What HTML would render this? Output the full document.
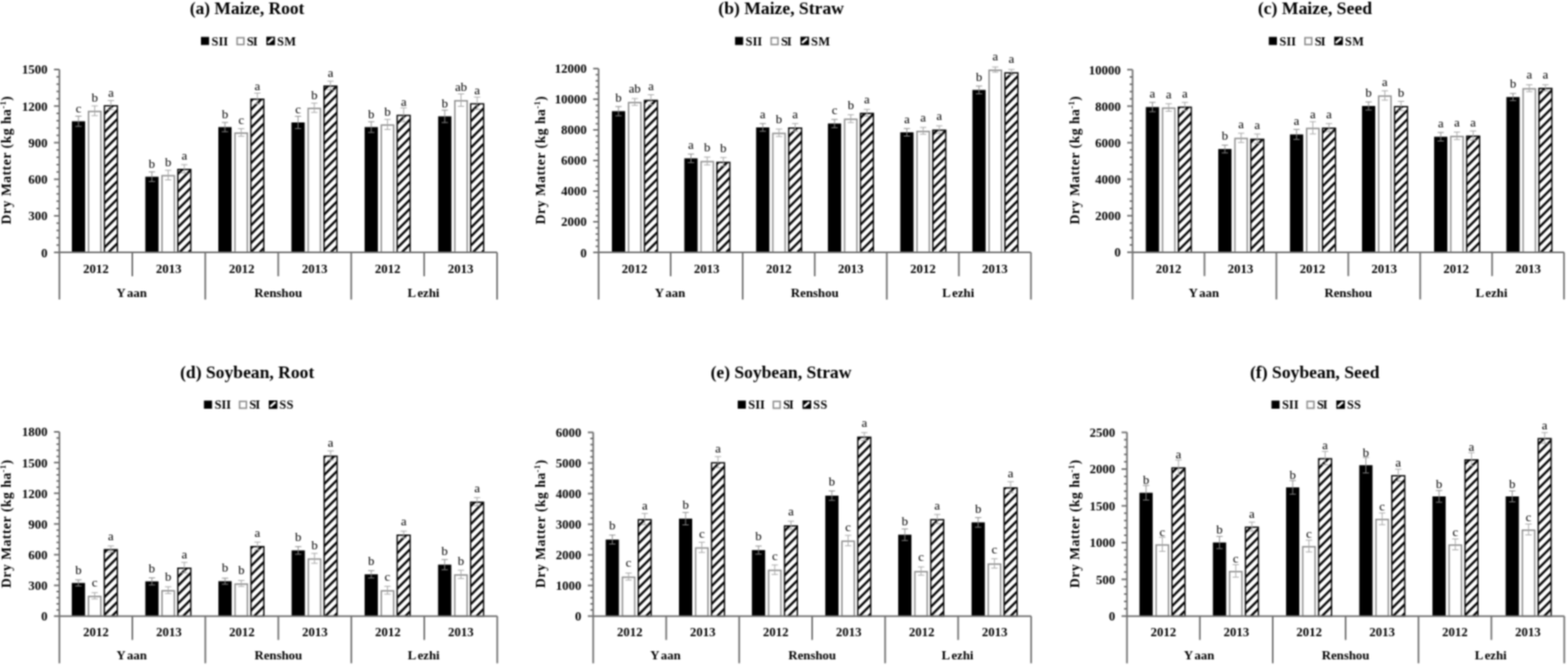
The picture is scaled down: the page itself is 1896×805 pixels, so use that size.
<!DOCTYPE html>
<html><head><meta charset="utf-8"><title>Dry matter figure</title>
<style>
html,body{margin:0;padding:0;background:#fff;}
body{width:1896px;height:805px;overflow:hidden;}
svg{display:block;}
text{font-family:'Liberation Serif','Times New Roman',serif;fill:#000;}
.ttl{font-size:21px;font-weight:bold;}
.leg{font-size:15px;font-weight:bold;}
.tick{font-size:15.5px;font-weight:bold;text-anchor:end;}
.cat{font-size:15.5px;font-weight:bold;font-kerning:none;}
.let{font-size:15.5px;}
.ytl{font-size:16.5px;font-weight:bold;}
.sup{font-size:10px;}
.ax{stroke:#707070;stroke-width:2;}
</style></head><body>
<svg width="1896" height="805" viewBox="0 0 1896 805">
<defs>
<filter id="bl" x="0" y="0" width="1" height="1" filterUnits="objectBoundingBox" color-interpolation-filters="sRGB"><feConvolveMatrix order="5" kernelMatrix="1 6 11 6 1 6 36 66 36 6 11 66 121 66 11 6 36 66 36 6 1 6 11 6 1" divisor="625" edgeMode="duplicate"/></filter>
<pattern id="hatcha" patternUnits="userSpaceOnUse" width="7.6" height="7.6" patternTransform="translate(0,4.3) rotate(-45)"><rect x="0" y="0" width="7.6" height="7.6" fill="#fff"/><rect x="0" y="0" width="7.6" height="2.7" fill="#000"/></pattern>
<pattern id="hatchb" patternUnits="userSpaceOnUse" width="7.6" height="7.6" patternTransform="translate(0,9.6) rotate(-45)"><rect x="0" y="0" width="7.6" height="7.6" fill="#fff"/><rect x="0" y="0" width="7.6" height="2.7" fill="#000"/></pattern>
<pattern id="hatchc" patternUnits="userSpaceOnUse" width="7.6" height="7.6" patternTransform="translate(0,6.0) rotate(-45)"><rect x="0" y="0" width="7.6" height="7.6" fill="#fff"/><rect x="0" y="0" width="7.6" height="2.7" fill="#000"/></pattern>
<pattern id="hatchd" patternUnits="userSpaceOnUse" width="7.6" height="7.6" patternTransform="translate(0,7.7) rotate(-45)"><rect x="0" y="0" width="7.6" height="7.6" fill="#fff"/><rect x="0" y="0" width="7.6" height="2.7" fill="#000"/></pattern>
<pattern id="hatche" patternUnits="userSpaceOnUse" width="7.6" height="7.6" patternTransform="translate(0,8.5) rotate(-45)"><rect x="0" y="0" width="7.6" height="7.6" fill="#fff"/><rect x="0" y="0" width="7.6" height="2.7" fill="#000"/></pattern>
<pattern id="hatchf" patternUnits="userSpaceOnUse" width="7.6" height="7.6" patternTransform="translate(0,9.0) rotate(-45)"><rect x="0" y="0" width="7.6" height="7.6" fill="#fff"/><rect x="0" y="0" width="7.6" height="2.7" fill="#000"/></pattern>
<pattern id="hatchL" patternUnits="userSpaceOnUse" width="5" height="5" patternTransform="rotate(-45)">
<rect x="0" y="0" width="5" height="5" fill="#fff"/><rect x="0" y="0" width="5" height="2.5" fill="#000"/>
</pattern>
</defs>
<g filter="url(#bl)">
<rect width="1896" height="805" fill="#fff"/>
<text x="229.5" y="16.9" class="ttl" textLength="138.5" lengthAdjust="spacingAndGlyphs">(a) Maize, Root</text>
<rect x="243" y="44.6" width="9.8" height="9.8" fill="#000"/>
<text x="255.8" y="54.6" class="leg" textLength="20" lengthAdjust="spacing">SII</text>
<rect x="286.7" y="45.6" width="8.2" height="8.2" fill="#fff" stroke="#8e8e8e" stroke-width="1.8"/>
<text x="298.6" y="54.6" class="leg" textLength="12.9" lengthAdjust="spacing">SI</text>
<rect x="322.1" y="44.4" width="10.4" height="10.2" fill="#000"/>
<line x1="324.7" y1="51.2" x2="329.5" y2="47" stroke="#fff" stroke-width="2.6" stroke-linecap="round"/>
<text x="334.9" y="54.6" class="leg" textLength="23" lengthAdjust="spacing">SM</text>
<rect x="86.9" y="146.6" width="16" height="158.5" fill="#000"/>
<path d="M94.9 140.4V152.8M91.1 140.4H98.7M91.1 152.8H98.7" stroke="#8a8a8a" stroke-width="1" fill="none"/>
<rect x="91.3" y="125.5" width="7.2" height="10.8" fill="#fff"/>
<text x="94.9" y="136" class="let" text-anchor="middle">c</text>
<rect x="107.1" y="134.7" width="14.9" height="170.4" fill="#fff" stroke="#8e8e8e" stroke-width="1.7"/>
<path d="M114.55 128V139.8M110.75 128H118.35M110.75 139.8H118.35" stroke="#a4a4a4" stroke-width="1" fill="none"/>
<rect x="110.95" y="112.8" width="7.2" height="10.8" fill="#fff"/>
<text x="114.55" y="123.3" class="let" text-anchor="middle">b</text>
<rect x="126.3" y="127.9" width="15.6" height="177.2" fill="url(#hatcha)" stroke="#000" stroke-width="1.6"/>
<path d="M134.1 121.5V132.7M130.3 121.5H137.9M130.3 132.7H137.9" stroke="#a4a4a4" stroke-width="1" fill="none"/>
<rect x="130.5" y="106" width="7.2" height="10.8" fill="#fff"/>
<text x="134.1" y="116.5" class="let" text-anchor="middle">a</text>
<rect x="175.7" y="213.6" width="16" height="91.5" fill="#000"/>
<path d="M183.7 207.8V219.4M179.9 207.8H187.5M179.9 219.4H187.5" stroke="#8a8a8a" stroke-width="1" fill="none"/>
<rect x="180.1" y="192.5" width="7.2" height="10.8" fill="#fff"/>
<text x="183.7" y="203" class="let" text-anchor="middle">b</text>
<rect x="195.9" y="212.4" width="14.9" height="92.7" fill="#fff" stroke="#8e8e8e" stroke-width="1.7"/>
<path d="M203.35 205.8V217.4M199.55 205.8H207.15M199.55 217.4H207.15" stroke="#a4a4a4" stroke-width="1" fill="none"/>
<rect x="199.75" y="190.5" width="7.2" height="10.8" fill="#fff"/>
<text x="203.35" y="201" class="let" text-anchor="middle">b</text>
<rect x="215.1" y="204.8" width="15.6" height="100.3" fill="url(#hatcha)" stroke="#000" stroke-width="1.6"/>
<path d="M222.9 199V209M219.1 199H226.7M219.1 209H226.7" stroke="#a4a4a4" stroke-width="1" fill="none"/>
<rect x="219.3" y="182.9" width="7.2" height="10.8" fill="#fff"/>
<text x="222.9" y="193.4" class="let" text-anchor="middle">a</text>
<rect x="264" y="153.6" width="16" height="151.5" fill="#000"/>
<path d="M272 148V159.2M268.2 148H275.8M268.2 159.2H275.8" stroke="#8a8a8a" stroke-width="1" fill="none"/>
<rect x="268.4" y="132.5" width="7.2" height="10.8" fill="#fff"/>
<text x="272" y="143" class="let" text-anchor="middle">b</text>
<rect x="284.2" y="160.9" width="14.9" height="144.2" fill="#fff" stroke="#8e8e8e" stroke-width="1.7"/>
<path d="M291.65 155.5V164.7M287.85 155.5H295.45M287.85 164.7H295.45" stroke="#a4a4a4" stroke-width="1" fill="none"/>
<rect x="288.05" y="139" width="7.2" height="10.8" fill="#fff"/>
<text x="291.65" y="149.5" class="let" text-anchor="middle">c</text>
<rect x="303.4" y="119.9" width="15.6" height="185.2" fill="url(#hatcha)" stroke="#000" stroke-width="1.6"/>
<path d="M311.2 112.6V125.6M307.4 112.6H315M307.4 125.6H315" stroke="#a4a4a4" stroke-width="1" fill="none"/>
<rect x="307.6" y="98" width="7.2" height="10.8" fill="#fff"/>
<text x="311.2" y="108.5" class="let" text-anchor="middle">a</text>
<rect x="352.4" y="148" width="16" height="157.1" fill="#000"/>
<path d="M360.4 140.6V155.4M356.6 140.6H364.2M356.6 155.4H364.2" stroke="#8a8a8a" stroke-width="1" fill="none"/>
<rect x="356.8" y="126.9" width="7.2" height="10.8" fill="#fff"/>
<text x="360.4" y="137.4" class="let" text-anchor="middle">c</text>
<rect x="372.6" y="131.1" width="14.9" height="174" fill="#fff" stroke="#8e8e8e" stroke-width="1.7"/>
<path d="M380.05 124.7V135.9M376.25 124.7H383.85M376.25 135.9H383.85" stroke="#a4a4a4" stroke-width="1" fill="none"/>
<rect x="376.45" y="109.2" width="7.2" height="10.8" fill="#fff"/>
<text x="380.05" y="119.7" class="let" text-anchor="middle">b</text>
<rect x="391.8" y="104.1" width="15.6" height="201" fill="url(#hatcha)" stroke="#000" stroke-width="1.6"/>
<path d="M399.6 98.1V108.5M395.8 98.1H403.4M395.8 108.5H403.4" stroke="#a4a4a4" stroke-width="1" fill="none"/>
<rect x="396" y="82.2" width="7.2" height="10.8" fill="#fff"/>
<text x="399.6" y="92.7" class="let" text-anchor="middle">a</text>
<rect x="440.9" y="153.6" width="16" height="151.5" fill="#000"/>
<path d="M448.9 147.1V160.1M445.1 147.1H452.7M445.1 160.1H452.7" stroke="#8a8a8a" stroke-width="1" fill="none"/>
<rect x="445.3" y="132.5" width="7.2" height="10.8" fill="#fff"/>
<text x="448.9" y="143" class="let" text-anchor="middle">b</text>
<rect x="461.1" y="151.2" width="14.9" height="153.9" fill="#fff" stroke="#8e8e8e" stroke-width="1.7"/>
<path d="M468.55 144.3V156.5M464.75 144.3H472.35M464.75 156.5H472.35" stroke="#a4a4a4" stroke-width="1" fill="none"/>
<rect x="464.95" y="129.3" width="7.2" height="10.8" fill="#fff"/>
<text x="468.55" y="139.8" class="let" text-anchor="middle">b</text>
<rect x="480.3" y="139.5" width="15.6" height="165.6" fill="url(#hatcha)" stroke="#000" stroke-width="1.6"/>
<path d="M488.1 130.3V147.1M484.3 130.3H491.9M484.3 147.1H491.9" stroke="#a4a4a4" stroke-width="1" fill="none"/>
<rect x="484.5" y="117.6" width="7.2" height="10.8" fill="#fff"/>
<text x="488.1" y="128.1" class="let" text-anchor="middle">a</text>
<rect x="529.8" y="140.6" width="16" height="164.5" fill="#000"/>
<path d="M537.8 133.1V148.1M534 133.1H541.6M534 148.1H541.6" stroke="#8a8a8a" stroke-width="1" fill="none"/>
<rect x="534.2" y="119.5" width="7.2" height="10.8" fill="#fff"/>
<text x="537.8" y="130" class="let" text-anchor="middle">b</text>
<rect x="550" y="121.8" width="14.9" height="183.3" fill="#fff" stroke="#8e8e8e" stroke-width="1.7"/>
<path d="M557.45 113.5V128.5M553.65 113.5H561.25M553.65 128.5H561.25" stroke="#a4a4a4" stroke-width="1" fill="none"/>
<rect x="550.2" y="99.9" width="14.5" height="10.8" fill="#fff"/>
<text x="557.45" y="110.4" class="let" text-anchor="middle">ab</text>
<rect x="569.2" y="125.5" width="15.6" height="179.6" fill="url(#hatcha)" stroke="#000" stroke-width="1.6"/>
<path d="M577 117.3V132.1M573.2 117.3H580.8M573.2 132.1H580.8" stroke="#a4a4a4" stroke-width="1" fill="none"/>
<rect x="573.4" y="103.6" width="7.2" height="10.8" fill="#fff"/>
<text x="577" y="114.1" class="let" text-anchor="middle">a</text>
<line x1="65.3" y1="305.1" x2="71.8" y2="305.1" class="ax"/>
<text x="57.6" y="310.5" class="tick">0</text>
<line x1="68.3" y1="296.26" x2="71.8" y2="296.26" class="ax"/>
<line x1="68.3" y1="287.41" x2="71.8" y2="287.41" class="ax"/>
<line x1="68.3" y1="278.57" x2="71.8" y2="278.57" class="ax"/>
<line x1="68.3" y1="269.72" x2="71.8" y2="269.72" class="ax"/>
<line x1="65.3" y1="260.88" x2="71.8" y2="260.88" class="ax"/>
<text x="57.6" y="266.28" class="tick">300</text>
<line x1="68.3" y1="252.04" x2="71.8" y2="252.04" class="ax"/>
<line x1="68.3" y1="243.19" x2="71.8" y2="243.19" class="ax"/>
<line x1="68.3" y1="234.35" x2="71.8" y2="234.35" class="ax"/>
<line x1="68.3" y1="225.5" x2="71.8" y2="225.5" class="ax"/>
<line x1="65.3" y1="216.66" x2="71.8" y2="216.66" class="ax"/>
<text x="57.6" y="222.06" class="tick">600</text>
<line x1="68.3" y1="207.82" x2="71.8" y2="207.82" class="ax"/>
<line x1="68.3" y1="198.97" x2="71.8" y2="198.97" class="ax"/>
<line x1="68.3" y1="190.13" x2="71.8" y2="190.13" class="ax"/>
<line x1="68.3" y1="181.28" x2="71.8" y2="181.28" class="ax"/>
<line x1="65.3" y1="172.44" x2="71.8" y2="172.44" class="ax"/>
<text x="57.6" y="177.84" class="tick">900</text>
<line x1="68.3" y1="163.6" x2="71.8" y2="163.6" class="ax"/>
<line x1="68.3" y1="154.75" x2="71.8" y2="154.75" class="ax"/>
<line x1="68.3" y1="145.91" x2="71.8" y2="145.91" class="ax"/>
<line x1="68.3" y1="137.06" x2="71.8" y2="137.06" class="ax"/>
<line x1="65.3" y1="128.22" x2="71.8" y2="128.22" class="ax"/>
<text x="57.6" y="133.62" class="tick">1200</text>
<line x1="68.3" y1="119.38" x2="71.8" y2="119.38" class="ax"/>
<line x1="68.3" y1="110.53" x2="71.8" y2="110.53" class="ax"/>
<line x1="68.3" y1="101.69" x2="71.8" y2="101.69" class="ax"/>
<line x1="68.3" y1="92.84" x2="71.8" y2="92.84" class="ax"/>
<line x1="65.3" y1="84" x2="71.8" y2="84" class="ax"/>
<text x="57.6" y="89.4" class="tick">1500</text>
<line x1="71.8" y1="84" x2="71.8" y2="362.1" class="ax"/>
<line x1="71.8" y1="305.1" x2="601.1" y2="305.1" class="ax"/>
<line x1="160.02" y1="305.1" x2="160.02" y2="333.9" class="ax"/>
<line x1="248.23" y1="305.1" x2="248.23" y2="362.1" class="ax"/>
<line x1="336.45" y1="305.1" x2="336.45" y2="333.9" class="ax"/>
<line x1="424.67" y1="305.1" x2="424.67" y2="362.1" class="ax"/>
<line x1="512.88" y1="305.1" x2="512.88" y2="333.9" class="ax"/>
<line x1="601.1" y1="305.1" x2="601.1" y2="362.1" class="ax"/>
<text x="115.91" y="329.7" class="cat" text-anchor="middle">2012</text>
<text x="204.12" y="329.7" class="cat" text-anchor="middle">2013</text>
<text x="292.34" y="329.7" class="cat" text-anchor="middle">2012</text>
<text x="380.56" y="329.7" class="cat" text-anchor="middle">2013</text>
<text x="468.78" y="329.7" class="cat" text-anchor="middle">2012</text>
<text x="556.99" y="329.7" class="cat" text-anchor="middle">2013</text>
<text x="159.22" y="359.3" class="cat" text-anchor="middle">Y<tspan dx="1.6">aan</tspan></text>
<text x="336.45" y="359.3" class="cat" text-anchor="middle">Renshou</text>
<text x="512.08" y="359.3" class="cat" text-anchor="middle">L<tspan dx="1.6">ezhi</tspan></text>
<text transform="translate(12.7,193.7) rotate(-90)" class="ytl" text-anchor="middle" textLength="155" lengthAdjust="spacing">Dry Matter (kg ha<tspan class="sup" dy="-6">-1</tspan><tspan dy="6">)</tspan></text>
<text x="868.6" y="16.9" class="ttl" textLength="151.9" lengthAdjust="spacingAndGlyphs">(b) Maize, Straw</text>
<rect x="888.8" y="44.6" width="9.8" height="9.8" fill="#000"/>
<text x="901.6" y="54.6" class="leg" textLength="20" lengthAdjust="spacing">SII</text>
<rect x="932.5" y="45.6" width="8.2" height="8.2" fill="#fff" stroke="#8e8e8e" stroke-width="1.8"/>
<text x="944.4" y="54.6" class="leg" textLength="12.9" lengthAdjust="spacing">SI</text>
<rect x="967.9" y="44.4" width="10.4" height="10.2" fill="#000"/>
<line x1="970.5" y1="51.2" x2="975.3" y2="47" stroke="#fff" stroke-width="2.6" stroke-linecap="round"/>
<text x="980.7" y="54.6" class="leg" textLength="23" lengthAdjust="spacing">SM</text>
<rect x="739.9" y="134.4" width="16" height="170.7" fill="#000"/>
<path d="M747.9 128.8V140M744.1 128.8H751.7M744.1 140H751.7" stroke="#8a8a8a" stroke-width="1" fill="none"/>
<rect x="744.3" y="112.7" width="7.2" height="10.8" fill="#fff"/>
<text x="747.9" y="123.2" class="let" text-anchor="middle">b</text>
<rect x="760.1" y="124" width="14.9" height="181.1" fill="#fff" stroke="#8e8e8e" stroke-width="1.7"/>
<path d="M767.55 119.1V127.3M763.75 119.1H771.35M763.75 127.3H771.35" stroke="#a4a4a4" stroke-width="1" fill="none"/>
<rect x="760.3" y="101.5" width="14.5" height="10.8" fill="#fff"/>
<text x="767.55" y="112" class="let" text-anchor="middle">ab</text>
<rect x="779.3" y="121.4" width="15.6" height="183.7" fill="url(#hatchb)" stroke="#000" stroke-width="1.6"/>
<path d="M787.1 114.5V126.7M783.3 114.5H790.9M783.3 126.7H790.9" stroke="#a4a4a4" stroke-width="1" fill="none"/>
<rect x="783.5" y="98.9" width="7.2" height="10.8" fill="#fff"/>
<text x="787.1" y="109.4" class="let" text-anchor="middle">a</text>
<rect x="827.5" y="191.4" width="16" height="113.7" fill="#000"/>
<path d="M835.5 186.2V196.6M831.7 186.2H839.3M831.7 196.6H839.3" stroke="#8a8a8a" stroke-width="1" fill="none"/>
<rect x="831.9" y="169.7" width="7.2" height="10.8" fill="#fff"/>
<text x="835.5" y="180.2" class="let" text-anchor="middle">a</text>
<rect x="847.7" y="195.4" width="14.9" height="109.7" fill="#fff" stroke="#8e8e8e" stroke-width="1.7"/>
<path d="M855.15 189.9V199.3M851.35 189.9H858.95M851.35 199.3H858.95" stroke="#a4a4a4" stroke-width="1" fill="none"/>
<rect x="851.55" y="172.9" width="7.2" height="10.8" fill="#fff"/>
<text x="855.15" y="183.4" class="let" text-anchor="middle">b</text>
<rect x="866.9" y="196.3" width="15.6" height="108.8" fill="url(#hatchb)" stroke="#000" stroke-width="1.6"/>
<path d="M874.7 190.3V200.7M870.9 190.3H878.5M870.9 200.7H878.5" stroke="#a4a4a4" stroke-width="1" fill="none"/>
<rect x="871.1" y="173.8" width="7.2" height="10.8" fill="#fff"/>
<text x="874.7" y="184.3" class="let" text-anchor="middle">b</text>
<rect x="914.3" y="154" width="16" height="151.1" fill="#000"/>
<path d="M922.3 149.3V158.7M918.5 149.3H926.1M918.5 158.7H926.1" stroke="#8a8a8a" stroke-width="1" fill="none"/>
<rect x="918.7" y="132.3" width="7.2" height="10.8" fill="#fff"/>
<text x="922.3" y="142.8" class="let" text-anchor="middle">a</text>
<rect x="934.5" y="161.3" width="14.9" height="143.8" fill="#fff" stroke="#8e8e8e" stroke-width="1.7"/>
<path d="M941.95 156V165M938.15 156H945.75M938.15 165H945.75" stroke="#a4a4a4" stroke-width="1" fill="none"/>
<rect x="938.35" y="138.8" width="7.2" height="10.8" fill="#fff"/>
<text x="941.95" y="149.3" class="let" text-anchor="middle">b</text>
<rect x="953.7" y="154.8" width="15.6" height="150.3" fill="url(#hatchb)" stroke="#000" stroke-width="1.6"/>
<path d="M961.5 149.3V158.7M957.7 149.3H965.3M957.7 158.7H965.3" stroke="#a4a4a4" stroke-width="1" fill="none"/>
<rect x="957.9" y="132.3" width="7.2" height="10.8" fill="#fff"/>
<text x="961.5" y="142.8" class="let" text-anchor="middle">a</text>
<rect x="1001.1" y="149.3" width="16" height="155.8" fill="#000"/>
<path d="M1009.1 144.3V154.3M1005.3 144.3H1012.9M1005.3 154.3H1012.9" stroke="#8a8a8a" stroke-width="1" fill="none"/>
<rect x="1005.5" y="127.6" width="7.2" height="10.8" fill="#fff"/>
<text x="1009.1" y="138.1" class="let" text-anchor="middle">c</text>
<rect x="1021.3" y="144.2" width="14.9" height="160.9" fill="#fff" stroke="#8e8e8e" stroke-width="1.7"/>
<path d="M1028.75 138.7V148.1M1024.95 138.7H1032.55M1024.95 148.1H1032.55" stroke="#a4a4a4" stroke-width="1" fill="none"/>
<rect x="1025.15" y="121.7" width="7.2" height="10.8" fill="#fff"/>
<text x="1028.75" y="132.2" class="let" text-anchor="middle">b</text>
<rect x="1040.5" y="137.1" width="15.6" height="168" fill="url(#hatchb)" stroke="#000" stroke-width="1.6"/>
<path d="M1048.3 132.2V140.4M1044.5 132.2H1052.1M1044.5 140.4H1052.1" stroke="#a4a4a4" stroke-width="1" fill="none"/>
<rect x="1044.7" y="114.6" width="7.2" height="10.8" fill="#fff"/>
<text x="1048.3" y="125.1" class="let" text-anchor="middle">a</text>
<rect x="1088.6" y="159.9" width="16" height="145.2" fill="#000"/>
<path d="M1096.6 155.3V164.5M1092.8 155.3H1100.4M1092.8 164.5H1100.4" stroke="#8a8a8a" stroke-width="1" fill="none"/>
<rect x="1093" y="138.2" width="7.2" height="10.8" fill="#fff"/>
<text x="1096.6" y="148.7" class="let" text-anchor="middle">a</text>
<rect x="1108.8" y="158.9" width="14.9" height="146.2" fill="#fff" stroke="#8e8e8e" stroke-width="1.7"/>
<path d="M1116.25 154V162.2M1112.45 154H1120.05M1112.45 162.2H1120.05" stroke="#a4a4a4" stroke-width="1" fill="none"/>
<rect x="1112.65" y="136.4" width="7.2" height="10.8" fill="#fff"/>
<text x="1116.25" y="146.9" class="let" text-anchor="middle">a</text>
<rect x="1128" y="157.4" width="15.6" height="147.7" fill="url(#hatchb)" stroke="#000" stroke-width="1.6"/>
<path d="M1135.8 152.1V161.1M1132 152.1H1139.6M1132 161.1H1139.6" stroke="#a4a4a4" stroke-width="1" fill="none"/>
<rect x="1132.2" y="134.9" width="7.2" height="10.8" fill="#fff"/>
<text x="1135.8" y="145.4" class="let" text-anchor="middle">a</text>
<rect x="1175.8" y="108.7" width="16" height="196.4" fill="#000"/>
<path d="M1183.8 104V113.4M1180 104H1187.6M1180 113.4H1187.6" stroke="#8a8a8a" stroke-width="1" fill="none"/>
<rect x="1180.2" y="87" width="7.2" height="10.8" fill="#fff"/>
<text x="1183.8" y="97.5" class="let" text-anchor="middle">b</text>
<rect x="1196" y="84.9" width="14.9" height="220.2" fill="#fff" stroke="#8e8e8e" stroke-width="1.7"/>
<path d="M1203.45 81V87.2M1199.65 81H1207.25M1199.65 87.2H1207.25" stroke="#a4a4a4" stroke-width="1" fill="none"/>
<rect x="1199.85" y="62.4" width="7.2" height="10.8" fill="#fff"/>
<text x="1203.45" y="72.9" class="let" text-anchor="middle">a</text>
<rect x="1215.2" y="88.1" width="15.6" height="217" fill="url(#hatchb)" stroke="#000" stroke-width="1.6"/>
<path d="M1223 84V90.6M1219.2 84H1226.8M1219.2 90.6H1226.8" stroke="#a4a4a4" stroke-width="1" fill="none"/>
<rect x="1219.4" y="65.6" width="7.2" height="10.8" fill="#fff"/>
<text x="1223" y="76.1" class="let" text-anchor="middle">a</text>
<line x1="717.3" y1="305.1" x2="723.8" y2="305.1" class="ax"/>
<text x="709.6" y="310.5" class="tick">0</text>
<line x1="720.3" y1="297.69" x2="723.8" y2="297.69" class="ax"/>
<line x1="720.3" y1="290.29" x2="723.8" y2="290.29" class="ax"/>
<line x1="720.3" y1="282.88" x2="723.8" y2="282.88" class="ax"/>
<line x1="720.3" y1="275.47" x2="723.8" y2="275.47" class="ax"/>
<line x1="717.3" y1="268.07" x2="723.8" y2="268.07" class="ax"/>
<text x="709.6" y="273.47" class="tick">2000</text>
<line x1="720.3" y1="260.66" x2="723.8" y2="260.66" class="ax"/>
<line x1="720.3" y1="253.25" x2="723.8" y2="253.25" class="ax"/>
<line x1="720.3" y1="245.85" x2="723.8" y2="245.85" class="ax"/>
<line x1="720.3" y1="238.44" x2="723.8" y2="238.44" class="ax"/>
<line x1="717.3" y1="231.03" x2="723.8" y2="231.03" class="ax"/>
<text x="709.6" y="236.43" class="tick">4000</text>
<line x1="720.3" y1="223.63" x2="723.8" y2="223.63" class="ax"/>
<line x1="720.3" y1="216.22" x2="723.8" y2="216.22" class="ax"/>
<line x1="720.3" y1="208.81" x2="723.8" y2="208.81" class="ax"/>
<line x1="720.3" y1="201.41" x2="723.8" y2="201.41" class="ax"/>
<line x1="717.3" y1="194" x2="723.8" y2="194" class="ax"/>
<text x="709.6" y="199.4" class="tick">6000</text>
<line x1="720.3" y1="186.59" x2="723.8" y2="186.59" class="ax"/>
<line x1="720.3" y1="179.19" x2="723.8" y2="179.19" class="ax"/>
<line x1="720.3" y1="171.78" x2="723.8" y2="171.78" class="ax"/>
<line x1="720.3" y1="164.37" x2="723.8" y2="164.37" class="ax"/>
<line x1="717.3" y1="156.97" x2="723.8" y2="156.97" class="ax"/>
<text x="709.6" y="162.37" class="tick">8000</text>
<line x1="720.3" y1="149.56" x2="723.8" y2="149.56" class="ax"/>
<line x1="720.3" y1="142.15" x2="723.8" y2="142.15" class="ax"/>
<line x1="720.3" y1="134.75" x2="723.8" y2="134.75" class="ax"/>
<line x1="720.3" y1="127.34" x2="723.8" y2="127.34" class="ax"/>
<line x1="717.3" y1="119.93" x2="723.8" y2="119.93" class="ax"/>
<text x="709.6" y="125.33" class="tick">10000</text>
<line x1="720.3" y1="112.53" x2="723.8" y2="112.53" class="ax"/>
<line x1="720.3" y1="105.12" x2="723.8" y2="105.12" class="ax"/>
<line x1="720.3" y1="97.71" x2="723.8" y2="97.71" class="ax"/>
<line x1="720.3" y1="90.31" x2="723.8" y2="90.31" class="ax"/>
<line x1="717.3" y1="82.9" x2="723.8" y2="82.9" class="ax"/>
<text x="709.6" y="88.3" class="tick">12000</text>
<line x1="723.8" y1="82.9" x2="723.8" y2="362.1" class="ax"/>
<line x1="723.8" y1="305.1" x2="1246.6" y2="305.1" class="ax"/>
<line x1="810.93" y1="305.1" x2="810.93" y2="333.9" class="ax"/>
<line x1="898.07" y1="305.1" x2="898.07" y2="362.1" class="ax"/>
<line x1="985.2" y1="305.1" x2="985.2" y2="333.9" class="ax"/>
<line x1="1072.33" y1="305.1" x2="1072.33" y2="362.1" class="ax"/>
<line x1="1159.47" y1="305.1" x2="1159.47" y2="333.9" class="ax"/>
<line x1="1246.6" y1="305.1" x2="1246.6" y2="362.1" class="ax"/>
<text x="767.37" y="329.7" class="cat" text-anchor="middle">2012</text>
<text x="854.5" y="329.7" class="cat" text-anchor="middle">2013</text>
<text x="941.63" y="329.7" class="cat" text-anchor="middle">2012</text>
<text x="1028.77" y="329.7" class="cat" text-anchor="middle">2013</text>
<text x="1115.9" y="329.7" class="cat" text-anchor="middle">2012</text>
<text x="1203.03" y="329.7" class="cat" text-anchor="middle">2013</text>
<text x="810.13" y="359.3" class="cat" text-anchor="middle">Y<tspan dx="1.6">aan</tspan></text>
<text x="985.2" y="359.3" class="cat" text-anchor="middle">Renshou</text>
<text x="1158.67" y="359.3" class="cat" text-anchor="middle">L<tspan dx="1.6">ezhi</tspan></text>
<text transform="translate(658.9,193.7) rotate(-90)" class="ytl" text-anchor="middle" textLength="155" lengthAdjust="spacing">Dry Matter (kg ha<tspan class="sup" dy="-6">-1</tspan><tspan dy="6">)</tspan></text>
<text x="1521" y="16.9" class="ttl" textLength="138" lengthAdjust="spacingAndGlyphs">(c) Maize, Seed</text>
<rect x="1534.25" y="44.6" width="9.8" height="9.8" fill="#000"/>
<text x="1547.05" y="54.6" class="leg" textLength="20" lengthAdjust="spacing">SII</text>
<rect x="1577.95" y="45.6" width="8.2" height="8.2" fill="#fff" stroke="#8e8e8e" stroke-width="1.8"/>
<text x="1589.85" y="54.6" class="leg" textLength="12.9" lengthAdjust="spacing">SI</text>
<rect x="1613.35" y="44.4" width="10.4" height="10.2" fill="#000"/>
<line x1="1615.95" y1="51.2" x2="1620.75" y2="47" stroke="#fff" stroke-width="2.6" stroke-linecap="round"/>
<text x="1626.15" y="54.6" class="leg" textLength="23" lengthAdjust="spacing">SM</text>
<rect x="1385.5" y="129.4" width="16" height="175.5" fill="#000"/>
<path d="M1393.5 123.8V135M1389.7 123.8H1397.3M1389.7 135H1397.3" stroke="#8a8a8a" stroke-width="1" fill="none"/>
<rect x="1389.9" y="107.7" width="7.2" height="10.8" fill="#fff"/>
<text x="1393.5" y="118.2" class="let" text-anchor="middle">a</text>
<rect x="1405.7" y="130.7" width="14.9" height="174.2" fill="#fff" stroke="#8e8e8e" stroke-width="1.7"/>
<path d="M1413.15 125.3V134.5M1409.35 125.3H1416.95M1409.35 134.5H1416.95" stroke="#a4a4a4" stroke-width="1" fill="none"/>
<rect x="1409.55" y="108.2" width="7.2" height="10.8" fill="#fff"/>
<text x="1413.15" y="118.7" class="let" text-anchor="middle">a</text>
<rect x="1424.9" y="129.6" width="15.6" height="175.3" fill="url(#hatchc)" stroke="#000" stroke-width="1.6"/>
<path d="M1432.7 123.8V133.8M1428.9 123.8H1436.5M1428.9 133.8H1436.5" stroke="#a4a4a4" stroke-width="1" fill="none"/>
<rect x="1429.1" y="107.1" width="7.2" height="10.8" fill="#fff"/>
<text x="1432.7" y="117.6" class="let" text-anchor="middle">a</text>
<rect x="1473.1" y="180.1" width="16" height="124.8" fill="#000"/>
<path d="M1481.1 175.4V184.8M1477.3 175.4H1484.9M1477.3 184.8H1484.9" stroke="#8a8a8a" stroke-width="1" fill="none"/>
<rect x="1477.5" y="158.4" width="7.2" height="10.8" fill="#fff"/>
<text x="1481.1" y="168.9" class="let" text-anchor="middle">b</text>
<rect x="1493.3" y="167.4" width="14.9" height="137.5" fill="#fff" stroke="#8e8e8e" stroke-width="1.7"/>
<path d="M1500.75 161V172.2M1496.95 161H1504.55M1496.95 172.2H1504.55" stroke="#a4a4a4" stroke-width="1" fill="none"/>
<rect x="1497.15" y="144.9" width="7.2" height="10.8" fill="#fff"/>
<text x="1500.75" y="155.4" class="let" text-anchor="middle">a</text>
<rect x="1512.5" y="168.4" width="15.6" height="136.5" fill="url(#hatchc)" stroke="#000" stroke-width="1.6"/>
<path d="M1520.3 162V173.2M1516.5 162H1524.1M1516.5 173.2H1524.1" stroke="#a4a4a4" stroke-width="1" fill="none"/>
<rect x="1516.7" y="145.9" width="7.2" height="10.8" fill="#fff"/>
<text x="1520.3" y="156.4" class="let" text-anchor="middle">a</text>
<rect x="1559.8" y="162.5" width="16" height="142.4" fill="#000"/>
<path d="M1567.8 156.4V168.6M1564 156.4H1571.6M1564 168.6H1571.6" stroke="#8a8a8a" stroke-width="1" fill="none"/>
<rect x="1564.2" y="140.8" width="7.2" height="10.8" fill="#fff"/>
<text x="1567.8" y="151.3" class="let" text-anchor="middle">a</text>
<rect x="1580" y="155.3" width="14.9" height="149.6" fill="#fff" stroke="#8e8e8e" stroke-width="1.7"/>
<path d="M1587.45 147.1V161.9M1583.65 147.1H1591.25M1583.65 161.9H1591.25" stroke="#a4a4a4" stroke-width="1" fill="none"/>
<rect x="1583.85" y="132.8" width="7.2" height="10.8" fill="#fff"/>
<text x="1587.45" y="143.3" class="let" text-anchor="middle">a</text>
<rect x="1599.2" y="155" width="15.6" height="149.9" fill="url(#hatchc)" stroke="#000" stroke-width="1.6"/>
<path d="M1607 149.3V159.1M1603.2 149.3H1610.8M1603.2 159.1H1610.8" stroke="#a4a4a4" stroke-width="1" fill="none"/>
<rect x="1603.4" y="132.5" width="7.2" height="10.8" fill="#fff"/>
<text x="1607" y="143" class="let" text-anchor="middle">a</text>
<rect x="1646.9" y="128.1" width="16" height="176.8" fill="#000"/>
<path d="M1654.9 123.2V133M1651.1 123.2H1658.7M1651.1 133H1658.7" stroke="#8a8a8a" stroke-width="1" fill="none"/>
<rect x="1651.3" y="106.4" width="7.2" height="10.8" fill="#fff"/>
<text x="1654.9" y="116.9" class="let" text-anchor="middle">b</text>
<rect x="1667.1" y="116.2" width="14.9" height="188.7" fill="#fff" stroke="#8e8e8e" stroke-width="1.7"/>
<path d="M1674.55 109.8V121M1670.75 109.8H1678.35M1670.75 121H1678.35" stroke="#a4a4a4" stroke-width="1" fill="none"/>
<rect x="1670.95" y="93.7" width="7.2" height="10.8" fill="#fff"/>
<text x="1674.55" y="104.2" class="let" text-anchor="middle">a</text>
<rect x="1686.3" y="128.9" width="15.6" height="176" fill="url(#hatchc)" stroke="#000" stroke-width="1.6"/>
<path d="M1694.1 122.5V133.7M1690.3 122.5H1697.9M1690.3 133.7H1697.9" stroke="#a4a4a4" stroke-width="1" fill="none"/>
<rect x="1690.5" y="106.4" width="7.2" height="10.8" fill="#fff"/>
<text x="1694.1" y="116.9" class="let" text-anchor="middle">b</text>
<rect x="1734.1" y="165.3" width="16" height="139.6" fill="#000"/>
<path d="M1742.1 160.1V170.5M1738.3 160.1H1745.9M1738.3 170.5H1745.9" stroke="#8a8a8a" stroke-width="1" fill="none"/>
<rect x="1738.5" y="143.6" width="7.2" height="10.8" fill="#fff"/>
<text x="1742.1" y="154.1" class="let" text-anchor="middle">a</text>
<rect x="1754.3" y="165" width="14.9" height="139.9" fill="#fff" stroke="#8e8e8e" stroke-width="1.7"/>
<path d="M1761.75 159.7V168.7M1757.95 159.7H1765.55M1757.95 168.7H1765.55" stroke="#a4a4a4" stroke-width="1" fill="none"/>
<rect x="1758.15" y="142.5" width="7.2" height="10.8" fill="#fff"/>
<text x="1761.75" y="153" class="let" text-anchor="middle">a</text>
<rect x="1773.5" y="164.6" width="15.6" height="140.3" fill="url(#hatchc)" stroke="#000" stroke-width="1.6"/>
<path d="M1781.3 158.3V169.3M1777.5 158.3H1785.1M1777.5 169.3H1785.1" stroke="#a4a4a4" stroke-width="1" fill="none"/>
<rect x="1777.7" y="142.1" width="7.2" height="10.8" fill="#fff"/>
<text x="1781.3" y="152.6" class="let" text-anchor="middle">a</text>
<rect x="1821.5" y="117.3" width="16" height="187.6" fill="#000"/>
<path d="M1829.5 113V121.6M1825.7 113H1833.3M1825.7 121.6H1833.3" stroke="#8a8a8a" stroke-width="1" fill="none"/>
<rect x="1825.9" y="95.6" width="7.2" height="10.8" fill="#fff"/>
<text x="1829.5" y="106.1" class="let" text-anchor="middle">b</text>
<rect x="1841.7" y="107.4" width="14.9" height="197.5" fill="#fff" stroke="#8e8e8e" stroke-width="1.7"/>
<path d="M1849.15 102.4V110.8M1845.35 102.4H1852.95M1845.35 110.8H1852.95" stroke="#a4a4a4" stroke-width="1" fill="none"/>
<rect x="1845.55" y="84.9" width="7.2" height="10.8" fill="#fff"/>
<text x="1849.15" y="95.4" class="let" text-anchor="middle">a</text>
<rect x="1860.9" y="106.9" width="15.6" height="198" fill="url(#hatchc)" stroke="#000" stroke-width="1.6"/>
<path d="M1868.7 102.4V109.8M1864.9 102.4H1872.5M1864.9 109.8H1872.5" stroke="#a4a4a4" stroke-width="1" fill="none"/>
<rect x="1865.1" y="84.4" width="7.2" height="10.8" fill="#fff"/>
<text x="1868.7" y="94.9" class="let" text-anchor="middle">a</text>
<line x1="1363" y1="304.9" x2="1369.5" y2="304.9" class="ax"/>
<text x="1355.3" y="310.3" class="tick">0</text>
<line x1="1366" y1="296.07" x2="1369.5" y2="296.07" class="ax"/>
<line x1="1366" y1="287.24" x2="1369.5" y2="287.24" class="ax"/>
<line x1="1366" y1="278.42" x2="1369.5" y2="278.42" class="ax"/>
<line x1="1366" y1="269.59" x2="1369.5" y2="269.59" class="ax"/>
<line x1="1363" y1="260.76" x2="1369.5" y2="260.76" class="ax"/>
<text x="1355.3" y="266.16" class="tick">2000</text>
<line x1="1366" y1="251.93" x2="1369.5" y2="251.93" class="ax"/>
<line x1="1366" y1="243.1" x2="1369.5" y2="243.1" class="ax"/>
<line x1="1366" y1="234.28" x2="1369.5" y2="234.28" class="ax"/>
<line x1="1366" y1="225.45" x2="1369.5" y2="225.45" class="ax"/>
<line x1="1363" y1="216.62" x2="1369.5" y2="216.62" class="ax"/>
<text x="1355.3" y="222.02" class="tick">4000</text>
<line x1="1366" y1="207.79" x2="1369.5" y2="207.79" class="ax"/>
<line x1="1366" y1="198.96" x2="1369.5" y2="198.96" class="ax"/>
<line x1="1366" y1="190.14" x2="1369.5" y2="190.14" class="ax"/>
<line x1="1366" y1="181.31" x2="1369.5" y2="181.31" class="ax"/>
<line x1="1363" y1="172.48" x2="1369.5" y2="172.48" class="ax"/>
<text x="1355.3" y="177.88" class="tick">6000</text>
<line x1="1366" y1="163.65" x2="1369.5" y2="163.65" class="ax"/>
<line x1="1366" y1="154.82" x2="1369.5" y2="154.82" class="ax"/>
<line x1="1366" y1="146" x2="1369.5" y2="146" class="ax"/>
<line x1="1366" y1="137.17" x2="1369.5" y2="137.17" class="ax"/>
<line x1="1363" y1="128.34" x2="1369.5" y2="128.34" class="ax"/>
<text x="1355.3" y="133.74" class="tick">8000</text>
<line x1="1366" y1="119.51" x2="1369.5" y2="119.51" class="ax"/>
<line x1="1366" y1="110.68" x2="1369.5" y2="110.68" class="ax"/>
<line x1="1366" y1="101.86" x2="1369.5" y2="101.86" class="ax"/>
<line x1="1366" y1="93.03" x2="1369.5" y2="93.03" class="ax"/>
<line x1="1363" y1="84.2" x2="1369.5" y2="84.2" class="ax"/>
<text x="1355.3" y="89.6" class="tick">10000</text>
<line x1="1369.5" y1="84.2" x2="1369.5" y2="361.9" class="ax"/>
<line x1="1369.5" y1="304.9" x2="1891.2" y2="304.9" class="ax"/>
<line x1="1456.45" y1="304.9" x2="1456.45" y2="333.7" class="ax"/>
<line x1="1543.4" y1="304.9" x2="1543.4" y2="361.9" class="ax"/>
<line x1="1630.35" y1="304.9" x2="1630.35" y2="333.7" class="ax"/>
<line x1="1717.3" y1="304.9" x2="1717.3" y2="361.9" class="ax"/>
<line x1="1804.25" y1="304.9" x2="1804.25" y2="333.7" class="ax"/>
<line x1="1891.2" y1="304.9" x2="1891.2" y2="361.9" class="ax"/>
<text x="1412.97" y="329.5" class="cat" text-anchor="middle">2012</text>
<text x="1499.92" y="329.5" class="cat" text-anchor="middle">2013</text>
<text x="1586.88" y="329.5" class="cat" text-anchor="middle">2012</text>
<text x="1673.83" y="329.5" class="cat" text-anchor="middle">2013</text>
<text x="1760.78" y="329.5" class="cat" text-anchor="middle">2012</text>
<text x="1847.72" y="329.5" class="cat" text-anchor="middle">2013</text>
<text x="1455.65" y="359.1" class="cat" text-anchor="middle">Y<tspan dx="1.6">aan</tspan></text>
<text x="1630.35" y="359.1" class="cat" text-anchor="middle">Renshou</text>
<text x="1803.45" y="359.1" class="cat" text-anchor="middle">L<tspan dx="1.6">ezhi</tspan></text>
<text transform="translate(1304.7,193.7) rotate(-90)" class="ytl" text-anchor="middle" textLength="155" lengthAdjust="spacing">Dry Matter (kg ha<tspan class="sup" dy="-6">-1</tspan><tspan dy="6">)</tspan></text>
<text x="217.8" y="456.5" class="ttl" textLength="162.2" lengthAdjust="spacingAndGlyphs">(d) Soybean, Root</text>
<rect x="246.6" y="484.2" width="9.8" height="9.8" fill="#000"/>
<text x="259.4" y="494.2" class="leg" textLength="20" lengthAdjust="spacing">SII</text>
<rect x="289.7" y="485.2" width="8.2" height="8.2" fill="#fff" stroke="#8e8e8e" stroke-width="1.8"/>
<text x="301.6" y="494.2" class="leg" textLength="12.9" lengthAdjust="spacing">SI</text>
<rect x="325" y="484" width="10.4" height="10.2" fill="#000"/>
<line x1="327.6" y1="490.8" x2="332.4" y2="486.6" stroke="#fff" stroke-width="2.6" stroke-linecap="round"/>
<text x="337.8" y="494.2" class="leg" textLength="17" lengthAdjust="spacing">SS</text>
<rect x="86.8" y="704.6" width="16" height="40.1" fill="#000"/>
<path d="M94.8 700.9V708.3M91 700.9H98.6M91 708.3H98.6" stroke="#8a8a8a" stroke-width="1" fill="none"/>
<rect x="91.2" y="683" width="7.2" height="10.8" fill="#fff"/>
<text x="94.8" y="693.5" class="let" text-anchor="middle">b</text>
<rect x="107" y="720.9" width="14.9" height="23.8" fill="#fff" stroke="#8e8e8e" stroke-width="1.7"/>
<path d="M114.45 716.3V723.9M110.65 716.3H118.25M110.65 723.9H118.25" stroke="#a4a4a4" stroke-width="1" fill="none"/>
<rect x="110.85" y="698.5" width="7.2" height="10.8" fill="#fff"/>
<text x="114.45" y="709" class="let" text-anchor="middle">c</text>
<rect x="126.2" y="664.4" width="15.6" height="80.3" fill="url(#hatchd)" stroke="#000" stroke-width="1.6"/>
<path d="M134 659.9V667.3M130.2 659.9H137.8M130.2 667.3H137.8" stroke="#a4a4a4" stroke-width="1" fill="none"/>
<rect x="130.4" y="642" width="7.2" height="10.8" fill="#fff"/>
<text x="134" y="652.5" class="let" text-anchor="middle">a</text>
<rect x="175.7" y="702.7" width="16" height="42" fill="#000"/>
<path d="M183.7 698.4V707M179.9 698.4H187.5M179.9 707H187.5" stroke="#8a8a8a" stroke-width="1" fill="none"/>
<rect x="180.1" y="681.1" width="7.2" height="10.8" fill="#fff"/>
<text x="183.7" y="691.6" class="let" text-anchor="middle">b</text>
<rect x="195.9" y="714.1" width="14.9" height="30.6" fill="#fff" stroke="#8e8e8e" stroke-width="1.7"/>
<path d="M203.35 709.2V717.4M199.55 709.2H207.15M199.55 717.4H207.15" stroke="#a4a4a4" stroke-width="1" fill="none"/>
<rect x="199.75" y="691.7" width="7.2" height="10.8" fill="#fff"/>
<text x="203.35" y="702.2" class="let" text-anchor="middle">b</text>
<rect x="215.1" y="686.8" width="15.6" height="57.9" fill="url(#hatchd)" stroke="#000" stroke-width="1.6"/>
<path d="M222.9 679.8V692.2M219.1 679.8H226.7M219.1 692.2H226.7" stroke="#a4a4a4" stroke-width="1" fill="none"/>
<rect x="219.3" y="664.4" width="7.2" height="10.8" fill="#fff"/>
<text x="222.9" y="674.9" class="let" text-anchor="middle">a</text>
<rect x="264.1" y="702.5" width="16" height="42.2" fill="#000"/>
<path d="M272.1 698.9V706.1M268.3 698.9H275.9M268.3 706.1H275.9" stroke="#8a8a8a" stroke-width="1" fill="none"/>
<rect x="268.5" y="680.9" width="7.2" height="10.8" fill="#fff"/>
<text x="272.1" y="691.4" class="let" text-anchor="middle">b</text>
<rect x="284.3" y="706" width="14.9" height="38.7" fill="#fff" stroke="#8e8e8e" stroke-width="1.7"/>
<path d="M291.75 701.6V708.8M287.95 701.6H295.55M287.95 708.8H295.55" stroke="#a4a4a4" stroke-width="1" fill="none"/>
<rect x="288.15" y="683.6" width="7.2" height="10.8" fill="#fff"/>
<text x="291.75" y="694.1" class="let" text-anchor="middle">b</text>
<rect x="303.5" y="660.7" width="15.6" height="84" fill="url(#hatchd)" stroke="#000" stroke-width="1.6"/>
<path d="M311.3 655.2V664.6M307.5 655.2H315.1M307.5 664.6H315.1" stroke="#a4a4a4" stroke-width="1" fill="none"/>
<rect x="307.7" y="638.3" width="7.2" height="10.8" fill="#fff"/>
<text x="311.3" y="648.8" class="let" text-anchor="middle">a</text>
<rect x="352.6" y="665.3" width="16" height="79.4" fill="#000"/>
<path d="M360.6 660.7V669.9M356.8 660.7H364.4M356.8 669.9H364.4" stroke="#8a8a8a" stroke-width="1" fill="none"/>
<rect x="357" y="643.7" width="7.2" height="10.8" fill="#fff"/>
<text x="360.6" y="654.2" class="let" text-anchor="middle">b</text>
<rect x="372.8" y="675.7" width="14.9" height="69" fill="#fff" stroke="#8e8e8e" stroke-width="1.7"/>
<path d="M380.25 668.9V680.9M376.45 668.9H384.05M376.45 680.9H384.05" stroke="#a4a4a4" stroke-width="1" fill="none"/>
<rect x="376.65" y="653.3" width="7.2" height="10.8" fill="#fff"/>
<text x="380.25" y="663.8" class="let" text-anchor="middle">b</text>
<rect x="392" y="551.4" width="15.6" height="193.3" fill="url(#hatchd)" stroke="#000" stroke-width="1.6"/>
<path d="M399.8 545V556.2M396 545H403.6M396 556.2H403.6" stroke="#a4a4a4" stroke-width="1" fill="none"/>
<rect x="396.2" y="529" width="7.2" height="10.8" fill="#fff"/>
<text x="399.8" y="539.5" class="let" text-anchor="middle">a</text>
<rect x="440.9" y="694.2" width="16" height="50.5" fill="#000"/>
<path d="M448.9 689.7V698.7M445.1 689.7H452.7M445.1 698.7H452.7" stroke="#8a8a8a" stroke-width="1" fill="none"/>
<rect x="445.3" y="672.6" width="7.2" height="10.8" fill="#fff"/>
<text x="448.9" y="683.1" class="let" text-anchor="middle">b</text>
<rect x="461.1" y="714.2" width="14.9" height="30.5" fill="#fff" stroke="#8e8e8e" stroke-width="1.7"/>
<path d="M468.55 708.7V718.1M464.75 708.7H472.35M464.75 718.1H472.35" stroke="#a4a4a4" stroke-width="1" fill="none"/>
<rect x="464.95" y="691.8" width="7.2" height="10.8" fill="#fff"/>
<text x="468.55" y="702.3" class="let" text-anchor="middle">c</text>
<rect x="480.3" y="646.9" width="15.6" height="97.8" fill="url(#hatchd)" stroke="#000" stroke-width="1.6"/>
<path d="M488.1 642V650.2M484.3 642H491.9M484.3 650.2H491.9" stroke="#a4a4a4" stroke-width="1" fill="none"/>
<rect x="484.5" y="624.5" width="7.2" height="10.8" fill="#fff"/>
<text x="488.1" y="635" class="let" text-anchor="middle">a</text>
<rect x="529.7" y="682.5" width="16" height="62.2" fill="#000"/>
<path d="M537.7 676.3V688.7M533.9 676.3H541.5M533.9 688.7H541.5" stroke="#8a8a8a" stroke-width="1" fill="none"/>
<rect x="534.1" y="660.9" width="7.2" height="10.8" fill="#fff"/>
<text x="537.7" y="671.4" class="let" text-anchor="middle">b</text>
<rect x="549.9" y="695" width="14.9" height="49.7" fill="#fff" stroke="#8e8e8e" stroke-width="1.7"/>
<path d="M557.35 689.2V699.2M553.55 689.2H561.15M553.55 699.2H561.15" stroke="#a4a4a4" stroke-width="1" fill="none"/>
<rect x="553.75" y="672.6" width="7.2" height="10.8" fill="#fff"/>
<text x="557.35" y="683.1" class="let" text-anchor="middle">b</text>
<rect x="569.1" y="607.1" width="15.6" height="137.6" fill="url(#hatchd)" stroke="#000" stroke-width="1.6"/>
<path d="M576.9 601.4V611.2M573.1 601.4H580.7M573.1 611.2H580.7" stroke="#a4a4a4" stroke-width="1" fill="none"/>
<rect x="573.3" y="584.7" width="7.2" height="10.8" fill="#fff"/>
<text x="576.9" y="595.2" class="let" text-anchor="middle">a</text>
<line x1="65.3" y1="744.7" x2="71.8" y2="744.7" class="ax"/>
<text x="57.6" y="750.1" class="tick">0</text>
<line x1="68.3" y1="737.28" x2="71.8" y2="737.28" class="ax"/>
<line x1="68.3" y1="729.85" x2="71.8" y2="729.85" class="ax"/>
<line x1="68.3" y1="722.43" x2="71.8" y2="722.43" class="ax"/>
<line x1="68.3" y1="715.01" x2="71.8" y2="715.01" class="ax"/>
<line x1="65.3" y1="707.58" x2="71.8" y2="707.58" class="ax"/>
<text x="57.6" y="712.98" class="tick">300</text>
<line x1="68.3" y1="700.16" x2="71.8" y2="700.16" class="ax"/>
<line x1="68.3" y1="692.74" x2="71.8" y2="692.74" class="ax"/>
<line x1="68.3" y1="685.31" x2="71.8" y2="685.31" class="ax"/>
<line x1="68.3" y1="677.89" x2="71.8" y2="677.89" class="ax"/>
<line x1="65.3" y1="670.47" x2="71.8" y2="670.47" class="ax"/>
<text x="57.6" y="675.87" class="tick">600</text>
<line x1="68.3" y1="663.04" x2="71.8" y2="663.04" class="ax"/>
<line x1="68.3" y1="655.62" x2="71.8" y2="655.62" class="ax"/>
<line x1="68.3" y1="648.2" x2="71.8" y2="648.2" class="ax"/>
<line x1="68.3" y1="640.77" x2="71.8" y2="640.77" class="ax"/>
<line x1="65.3" y1="633.35" x2="71.8" y2="633.35" class="ax"/>
<text x="57.6" y="638.75" class="tick">900</text>
<line x1="68.3" y1="625.93" x2="71.8" y2="625.93" class="ax"/>
<line x1="68.3" y1="618.5" x2="71.8" y2="618.5" class="ax"/>
<line x1="68.3" y1="611.08" x2="71.8" y2="611.08" class="ax"/>
<line x1="68.3" y1="603.66" x2="71.8" y2="603.66" class="ax"/>
<line x1="65.3" y1="596.23" x2="71.8" y2="596.23" class="ax"/>
<text x="57.6" y="601.63" class="tick">1200</text>
<line x1="68.3" y1="588.81" x2="71.8" y2="588.81" class="ax"/>
<line x1="68.3" y1="581.39" x2="71.8" y2="581.39" class="ax"/>
<line x1="68.3" y1="573.96" x2="71.8" y2="573.96" class="ax"/>
<line x1="68.3" y1="566.54" x2="71.8" y2="566.54" class="ax"/>
<line x1="65.3" y1="559.12" x2="71.8" y2="559.12" class="ax"/>
<text x="57.6" y="564.52" class="tick">1500</text>
<line x1="68.3" y1="551.69" x2="71.8" y2="551.69" class="ax"/>
<line x1="68.3" y1="544.27" x2="71.8" y2="544.27" class="ax"/>
<line x1="68.3" y1="536.85" x2="71.8" y2="536.85" class="ax"/>
<line x1="68.3" y1="529.42" x2="71.8" y2="529.42" class="ax"/>
<line x1="65.3" y1="522" x2="71.8" y2="522" class="ax"/>
<text x="57.6" y="527.4" class="tick">1800</text>
<line x1="71.8" y1="522" x2="71.8" y2="801.7" class="ax"/>
<line x1="71.8" y1="744.7" x2="601.3" y2="744.7" class="ax"/>
<line x1="160.05" y1="744.7" x2="160.05" y2="773.5" class="ax"/>
<line x1="248.3" y1="744.7" x2="248.3" y2="801.7" class="ax"/>
<line x1="336.55" y1="744.7" x2="336.55" y2="773.5" class="ax"/>
<line x1="424.8" y1="744.7" x2="424.8" y2="801.7" class="ax"/>
<line x1="513.05" y1="744.7" x2="513.05" y2="773.5" class="ax"/>
<line x1="601.3" y1="744.7" x2="601.3" y2="801.7" class="ax"/>
<text x="115.92" y="769.3" class="cat" text-anchor="middle">2012</text>
<text x="204.18" y="769.3" class="cat" text-anchor="middle">2013</text>
<text x="292.43" y="769.3" class="cat" text-anchor="middle">2012</text>
<text x="380.68" y="769.3" class="cat" text-anchor="middle">2013</text>
<text x="468.93" y="769.3" class="cat" text-anchor="middle">2012</text>
<text x="557.17" y="769.3" class="cat" text-anchor="middle">2013</text>
<text x="159.25" y="797.2" class="cat" text-anchor="middle">Y<tspan dx="1.6">aan</tspan></text>
<text x="336.55" y="797.2" class="cat" text-anchor="middle">Renshou</text>
<text x="512.25" y="797.2" class="cat" text-anchor="middle">L<tspan dx="1.6">ezhi</tspan></text>
<text transform="translate(12.7,633.3) rotate(-90)" class="ytl" text-anchor="middle" textLength="155" lengthAdjust="spacing">Dry Matter (kg ha<tspan class="sup" dy="-6">-1</tspan><tspan dy="6">)</tspan></text>
<text x="859.2" y="456.5" class="ttl" textLength="170.3" lengthAdjust="spacingAndGlyphs">(e) Soybean, Straw</text>
<rect x="892.05" y="484.2" width="9.8" height="9.8" fill="#000"/>
<text x="904.85" y="494.2" class="leg" textLength="20" lengthAdjust="spacing">SII</text>
<rect x="935.15" y="485.2" width="8.2" height="8.2" fill="#fff" stroke="#8e8e8e" stroke-width="1.8"/>
<text x="947.05" y="494.2" class="leg" textLength="12.9" lengthAdjust="spacing">SI</text>
<rect x="970.45" y="484" width="10.4" height="10.2" fill="#000"/>
<line x1="973.05" y1="490.8" x2="977.85" y2="486.6" stroke="#fff" stroke-width="2.6" stroke-linecap="round"/>
<text x="983.25" y="494.2" class="leg" textLength="17" lengthAdjust="spacing">SS</text>
<rect x="732.4" y="652.2" width="16" height="92.5" fill="#000"/>
<path d="M740.4 646.8V657.6M736.6 646.8H744.2M736.6 657.6H744.2" stroke="#8a8a8a" stroke-width="1" fill="none"/>
<rect x="736.8" y="629.9" width="7.2" height="10.8" fill="#fff"/>
<text x="740.4" y="640.4" class="let" text-anchor="middle">b</text>
<rect x="752.6" y="697.7" width="14.9" height="47" fill="#fff" stroke="#8e8e8e" stroke-width="1.7"/>
<path d="M760.05 692.7V701.1M756.25 692.7H763.85M756.25 701.1H763.85" stroke="#a4a4a4" stroke-width="1" fill="none"/>
<rect x="756.45" y="674.6" width="7.2" height="10.8" fill="#fff"/>
<text x="760.05" y="685.1" class="let" text-anchor="middle">c</text>
<rect x="771.8" y="628.2" width="15.6" height="116.5" fill="url(#hatche)" stroke="#000" stroke-width="1.6"/>
<path d="M779.6 620.7V634.1M775.8 620.7H783.4M775.8 634.1H783.4" stroke="#a4a4a4" stroke-width="1" fill="none"/>
<rect x="776" y="605.1" width="7.2" height="10.8" fill="#fff"/>
<text x="779.6" y="615.6" class="let" text-anchor="middle">a</text>
<rect x="821" y="626.9" width="16" height="117.8" fill="#000"/>
<path d="M829 619.4V634.4M825.2 619.4H832.8M825.2 634.4H832.8" stroke="#8a8a8a" stroke-width="1" fill="none"/>
<rect x="825.4" y="604.6" width="7.2" height="10.8" fill="#fff"/>
<text x="829" y="615.1" class="let" text-anchor="middle">b</text>
<rect x="841.2" y="662.4" width="14.9" height="82.3" fill="#fff" stroke="#8e8e8e" stroke-width="1.7"/>
<path d="M848.65 655.4V667.8M844.85 655.4H852.45M844.85 667.8H852.45" stroke="#a4a4a4" stroke-width="1" fill="none"/>
<rect x="845.05" y="639.3" width="7.2" height="10.8" fill="#fff"/>
<text x="848.65" y="649.8" class="let" text-anchor="middle">c</text>
<rect x="860.4" y="559.4" width="15.6" height="185.3" fill="url(#hatche)" stroke="#000" stroke-width="1.6"/>
<path d="M868.2 551.9V565.3M864.4 551.9H872M864.4 565.3H872" stroke="#a4a4a4" stroke-width="1" fill="none"/>
<rect x="864.6" y="536.3" width="7.2" height="10.8" fill="#fff"/>
<text x="868.2" y="546.8" class="let" text-anchor="middle">a</text>
<rect x="909.2" y="664.9" width="16" height="79.8" fill="#000"/>
<path d="M917.2 660V669.8M913.4 660H921M913.4 669.8H921" stroke="#8a8a8a" stroke-width="1" fill="none"/>
<rect x="913.6" y="642.6" width="7.2" height="10.8" fill="#fff"/>
<text x="917.2" y="653.1" class="let" text-anchor="middle">b</text>
<rect x="929.4" y="689.4" width="14.9" height="55.3" fill="#fff" stroke="#8e8e8e" stroke-width="1.7"/>
<path d="M936.85 682.9V694.3M933.05 682.9H940.65M933.05 694.3H940.65" stroke="#a4a4a4" stroke-width="1" fill="none"/>
<rect x="933.25" y="666.3" width="7.2" height="10.8" fill="#fff"/>
<text x="936.85" y="676.8" class="let" text-anchor="middle">c</text>
<rect x="948.6" y="635.7" width="15.6" height="109" fill="url(#hatche)" stroke="#000" stroke-width="1.6"/>
<path d="M956.4 630V639.8M952.6 630H960.2M952.6 639.8H960.2" stroke="#a4a4a4" stroke-width="1" fill="none"/>
<rect x="952.8" y="612.6" width="7.2" height="10.8" fill="#fff"/>
<text x="956.4" y="623.1" class="let" text-anchor="middle">a</text>
<rect x="997.9" y="599.1" width="16" height="145.6" fill="#000"/>
<path d="M1005.9 593.4V604.8M1002.1 593.4H1009.7M1002.1 604.8H1009.7" stroke="#8a8a8a" stroke-width="1" fill="none"/>
<rect x="1002.3" y="576.8" width="7.2" height="10.8" fill="#fff"/>
<text x="1005.9" y="587.3" class="let" text-anchor="middle">b</text>
<rect x="1018.1" y="654.2" width="14.9" height="90.5" fill="#fff" stroke="#8e8e8e" stroke-width="1.7"/>
<path d="M1025.55 647.1V659.7M1021.75 647.1H1029.35M1021.75 659.7H1029.35" stroke="#a4a4a4" stroke-width="1" fill="none"/>
<rect x="1021.95" y="631.1" width="7.2" height="10.8" fill="#fff"/>
<text x="1025.55" y="641.6" class="let" text-anchor="middle">c</text>
<rect x="1037.3" y="528.5" width="15.6" height="216.2" fill="url(#hatche)" stroke="#000" stroke-width="1.6"/>
<path d="M1045.1 522.9V532.5M1041.3 522.9H1048.9M1041.3 532.5H1048.9" stroke="#a4a4a4" stroke-width="1" fill="none"/>
<rect x="1041.5" y="505.4" width="7.2" height="10.8" fill="#fff"/>
<text x="1045.1" y="515.9" class="let" text-anchor="middle">a</text>
<rect x="1086.1" y="646.3" width="16" height="98.4" fill="#000"/>
<path d="M1094.1 639.3V653.3M1090.3 639.3H1097.9M1090.3 653.3H1097.9" stroke="#8a8a8a" stroke-width="1" fill="none"/>
<rect x="1090.5" y="624" width="7.2" height="10.8" fill="#fff"/>
<text x="1094.1" y="634.5" class="let" text-anchor="middle">b</text>
<rect x="1106.3" y="691" width="14.9" height="53.7" fill="#fff" stroke="#8e8e8e" stroke-width="1.7"/>
<path d="M1113.75 685.2V695.2M1109.95 685.2H1117.55M1109.95 695.2H1117.55" stroke="#a4a4a4" stroke-width="1" fill="none"/>
<rect x="1110.15" y="667.9" width="7.2" height="10.8" fill="#fff"/>
<text x="1113.75" y="678.4" class="let" text-anchor="middle">c</text>
<rect x="1125.5" y="628.2" width="15.6" height="116.5" fill="url(#hatche)" stroke="#000" stroke-width="1.6"/>
<path d="M1133.3 621.9V632.9M1129.5 621.9H1137.1M1129.5 632.9H1137.1" stroke="#a4a4a4" stroke-width="1" fill="none"/>
<rect x="1129.7" y="605.1" width="7.2" height="10.8" fill="#fff"/>
<text x="1133.3" y="615.6" class="let" text-anchor="middle">a</text>
<rect x="1174.8" y="631.4" width="16" height="113.3" fill="#000"/>
<path d="M1182.8 625.6V637.2M1179 625.6H1186.6M1179 637.2H1186.6" stroke="#8a8a8a" stroke-width="1" fill="none"/>
<rect x="1179.2" y="609.1" width="7.2" height="10.8" fill="#fff"/>
<text x="1182.8" y="619.6" class="let" text-anchor="middle">b</text>
<rect x="1195" y="681.8" width="14.9" height="62.9" fill="#fff" stroke="#8e8e8e" stroke-width="1.7"/>
<path d="M1202.45 675.3V686.7M1198.65 675.3H1206.25M1198.65 686.7H1206.25" stroke="#a4a4a4" stroke-width="1" fill="none"/>
<rect x="1198.85" y="658.7" width="7.2" height="10.8" fill="#fff"/>
<text x="1202.45" y="669.2" class="let" text-anchor="middle">c</text>
<rect x="1214.2" y="589.7" width="15.6" height="155" fill="url(#hatche)" stroke="#000" stroke-width="1.6"/>
<path d="M1222 582.2V595.6M1218.2 582.2H1225.8M1218.2 595.6H1225.8" stroke="#a4a4a4" stroke-width="1" fill="none"/>
<rect x="1218.4" y="566.6" width="7.2" height="10.8" fill="#fff"/>
<text x="1222" y="577.1" class="let" text-anchor="middle">a</text>
<line x1="710.8" y1="744.7" x2="717.3" y2="744.7" class="ax"/>
<text x="703.1" y="750.1" class="tick">0</text>
<line x1="713.8" y1="737.3" x2="717.3" y2="737.3" class="ax"/>
<line x1="713.8" y1="729.89" x2="717.3" y2="729.89" class="ax"/>
<line x1="713.8" y1="722.49" x2="717.3" y2="722.49" class="ax"/>
<line x1="713.8" y1="715.09" x2="717.3" y2="715.09" class="ax"/>
<line x1="710.8" y1="707.68" x2="717.3" y2="707.68" class="ax"/>
<text x="703.1" y="713.08" class="tick">1000</text>
<line x1="713.8" y1="700.28" x2="717.3" y2="700.28" class="ax"/>
<line x1="713.8" y1="692.88" x2="717.3" y2="692.88" class="ax"/>
<line x1="713.8" y1="685.47" x2="717.3" y2="685.47" class="ax"/>
<line x1="713.8" y1="678.07" x2="717.3" y2="678.07" class="ax"/>
<line x1="710.8" y1="670.67" x2="717.3" y2="670.67" class="ax"/>
<text x="703.1" y="676.07" class="tick">2000</text>
<line x1="713.8" y1="663.26" x2="717.3" y2="663.26" class="ax"/>
<line x1="713.8" y1="655.86" x2="717.3" y2="655.86" class="ax"/>
<line x1="713.8" y1="648.46" x2="717.3" y2="648.46" class="ax"/>
<line x1="713.8" y1="641.05" x2="717.3" y2="641.05" class="ax"/>
<line x1="710.8" y1="633.65" x2="717.3" y2="633.65" class="ax"/>
<text x="703.1" y="639.05" class="tick">3000</text>
<line x1="713.8" y1="626.25" x2="717.3" y2="626.25" class="ax"/>
<line x1="713.8" y1="618.84" x2="717.3" y2="618.84" class="ax"/>
<line x1="713.8" y1="611.44" x2="717.3" y2="611.44" class="ax"/>
<line x1="713.8" y1="604.04" x2="717.3" y2="604.04" class="ax"/>
<line x1="710.8" y1="596.63" x2="717.3" y2="596.63" class="ax"/>
<text x="703.1" y="602.03" class="tick">4000</text>
<line x1="713.8" y1="589.23" x2="717.3" y2="589.23" class="ax"/>
<line x1="713.8" y1="581.83" x2="717.3" y2="581.83" class="ax"/>
<line x1="713.8" y1="574.42" x2="717.3" y2="574.42" class="ax"/>
<line x1="713.8" y1="567.02" x2="717.3" y2="567.02" class="ax"/>
<line x1="710.8" y1="559.62" x2="717.3" y2="559.62" class="ax"/>
<text x="703.1" y="565.02" class="tick">5000</text>
<line x1="713.8" y1="552.21" x2="717.3" y2="552.21" class="ax"/>
<line x1="713.8" y1="544.81" x2="717.3" y2="544.81" class="ax"/>
<line x1="713.8" y1="537.41" x2="717.3" y2="537.41" class="ax"/>
<line x1="713.8" y1="530" x2="717.3" y2="530" class="ax"/>
<line x1="710.8" y1="522.6" x2="717.3" y2="522.6" class="ax"/>
<text x="703.1" y="528" class="tick">6000</text>
<line x1="717.3" y1="522.6" x2="717.3" y2="801.7" class="ax"/>
<line x1="717.3" y1="744.7" x2="1246.8" y2="744.7" class="ax"/>
<line x1="805.55" y1="744.7" x2="805.55" y2="773.5" class="ax"/>
<line x1="893.8" y1="744.7" x2="893.8" y2="801.7" class="ax"/>
<line x1="982.05" y1="744.7" x2="982.05" y2="773.5" class="ax"/>
<line x1="1070.3" y1="744.7" x2="1070.3" y2="801.7" class="ax"/>
<line x1="1158.55" y1="744.7" x2="1158.55" y2="773.5" class="ax"/>
<line x1="1246.8" y1="744.7" x2="1246.8" y2="801.7" class="ax"/>
<text x="761.42" y="769.3" class="cat" text-anchor="middle">2012</text>
<text x="849.67" y="769.3" class="cat" text-anchor="middle">2013</text>
<text x="937.92" y="769.3" class="cat" text-anchor="middle">2012</text>
<text x="1026.17" y="769.3" class="cat" text-anchor="middle">2013</text>
<text x="1114.42" y="769.3" class="cat" text-anchor="middle">2012</text>
<text x="1202.67" y="769.3" class="cat" text-anchor="middle">2013</text>
<text x="804.75" y="797.2" class="cat" text-anchor="middle">Y<tspan dx="1.6">aan</tspan></text>
<text x="982.05" y="797.2" class="cat" text-anchor="middle">Renshou</text>
<text x="1157.75" y="797.2" class="cat" text-anchor="middle">L<tspan dx="1.6">ezhi</tspan></text>
<text transform="translate(658.9,633.3) rotate(-90)" class="ytl" text-anchor="middle" textLength="155" lengthAdjust="spacing">Dry Matter (kg ha<tspan class="sup" dy="-6">-1</tspan><tspan dy="6">)</tspan></text>
<text x="1511.5" y="456.5" class="ttl" textLength="156.5" lengthAdjust="spacingAndGlyphs">(f) Soybean, Seed</text>
<rect x="1537.45" y="484.2" width="9.8" height="9.8" fill="#000"/>
<text x="1550.25" y="494.2" class="leg" textLength="20" lengthAdjust="spacing">SII</text>
<rect x="1580.55" y="485.2" width="8.2" height="8.2" fill="#fff" stroke="#8e8e8e" stroke-width="1.8"/>
<text x="1592.45" y="494.2" class="leg" textLength="12.9" lengthAdjust="spacing">SI</text>
<rect x="1615.85" y="484" width="10.4" height="10.2" fill="#000"/>
<line x1="1618.45" y1="490.8" x2="1623.25" y2="486.6" stroke="#fff" stroke-width="2.6" stroke-linecap="round"/>
<text x="1628.65" y="494.2" class="leg" textLength="17" lengthAdjust="spacing">SS</text>
<rect x="1377.8" y="595.6" width="16" height="149.1" fill="#000"/>
<path d="M1385.8 586.8V604.4M1382 586.8H1389.6M1382 604.4H1389.6" stroke="#8a8a8a" stroke-width="1" fill="none"/>
<rect x="1382.2" y="574.7" width="7.2" height="10.8" fill="#fff"/>
<text x="1385.8" y="585.2" class="let" text-anchor="middle">b</text>
<rect x="1398" y="658.7" width="14.9" height="86" fill="#fff" stroke="#8e8e8e" stroke-width="1.7"/>
<path d="M1405.45 649.4V666.4M1401.65 649.4H1409.25M1401.65 666.4H1409.25" stroke="#a4a4a4" stroke-width="1" fill="none"/>
<rect x="1401.85" y="637" width="7.2" height="10.8" fill="#fff"/>
<text x="1405.45" y="647.5" class="let" text-anchor="middle">c</text>
<rect x="1417.2" y="565.6" width="15.6" height="179.1" fill="url(#hatchf)" stroke="#000" stroke-width="1.6"/>
<path d="M1425 556V573.6M1421.2 556H1428.8M1421.2 573.6H1428.8" stroke="#a4a4a4" stroke-width="1" fill="none"/>
<rect x="1421.4" y="543.9" width="7.2" height="10.8" fill="#fff"/>
<text x="1425" y="554.4" class="let" text-anchor="middle">a</text>
<rect x="1466.6" y="655.7" width="16" height="89" fill="#000"/>
<path d="M1474.6 648.3V663.1M1470.8 648.3H1478.4M1470.8 663.1H1478.4" stroke="#8a8a8a" stroke-width="1" fill="none"/>
<rect x="1471" y="634.8" width="7.2" height="10.8" fill="#fff"/>
<text x="1474.6" y="645.3" class="let" text-anchor="middle">b</text>
<rect x="1486.8" y="690.9" width="14.9" height="53.8" fill="#fff" stroke="#8e8e8e" stroke-width="1.7"/>
<path d="M1494.25 682.5V697.7M1490.45 682.5H1498.05M1490.45 697.7H1498.05" stroke="#a4a4a4" stroke-width="1" fill="none"/>
<rect x="1490.65" y="669.2" width="7.2" height="10.8" fill="#fff"/>
<text x="1494.25" y="679.7" class="let" text-anchor="middle">c</text>
<rect x="1506" y="637.3" width="15.6" height="107.4" fill="url(#hatchf)" stroke="#000" stroke-width="1.6"/>
<path d="M1513.8 631.1V641.9M1510 631.1H1517.6M1510 641.9H1517.6" stroke="#a4a4a4" stroke-width="1" fill="none"/>
<rect x="1510.2" y="615.6" width="7.2" height="10.8" fill="#fff"/>
<text x="1513.8" y="626.1" class="let" text-anchor="middle">a</text>
<rect x="1555.1" y="589.1" width="16" height="155.6" fill="#000"/>
<path d="M1563.1 580.9V597.3M1559.3 580.9H1566.9M1559.3 597.3H1566.9" stroke="#8a8a8a" stroke-width="1" fill="none"/>
<rect x="1559.5" y="568.2" width="7.2" height="10.8" fill="#fff"/>
<text x="1563.1" y="578.7" class="let" text-anchor="middle">b</text>
<rect x="1575.3" y="660.8" width="14.9" height="83.9" fill="#fff" stroke="#8e8e8e" stroke-width="1.7"/>
<path d="M1582.75 652.9V667.1M1578.95 652.9H1586.55M1578.95 667.1H1586.55" stroke="#a4a4a4" stroke-width="1" fill="none"/>
<rect x="1579.15" y="639.1" width="7.2" height="10.8" fill="#fff"/>
<text x="1582.75" y="649.6" class="let" text-anchor="middle">c</text>
<rect x="1594.5" y="554.5" width="15.6" height="190.2" fill="url(#hatchf)" stroke="#000" stroke-width="1.6"/>
<path d="M1602.3 545.7V561.7M1598.5 545.7H1606.1M1598.5 561.7H1606.1" stroke="#a4a4a4" stroke-width="1" fill="none"/>
<rect x="1598.7" y="532.8" width="7.2" height="10.8" fill="#fff"/>
<text x="1602.3" y="543.3" class="let" text-anchor="middle">a</text>
<rect x="1643.6" y="562.3" width="16" height="182.4" fill="#000"/>
<path d="M1651.6 552.9V571.7M1647.8 552.9H1655.4M1647.8 571.7H1655.4" stroke="#8a8a8a" stroke-width="1" fill="none"/>
<rect x="1648" y="541.4" width="7.2" height="10.8" fill="#fff"/>
<text x="1651.6" y="551.9" class="let" text-anchor="middle">b</text>
<rect x="1663.8" y="627.9" width="14.9" height="116.8" fill="#fff" stroke="#8e8e8e" stroke-width="1.7"/>
<path d="M1671.25 620V634.2M1667.45 620H1675.05M1667.45 634.2H1675.05" stroke="#a4a4a4" stroke-width="1" fill="none"/>
<rect x="1667.65" y="606.2" width="7.2" height="10.8" fill="#fff"/>
<text x="1671.25" y="616.7" class="let" text-anchor="middle">c</text>
<rect x="1683" y="575.1" width="15.6" height="169.6" fill="url(#hatchf)" stroke="#000" stroke-width="1.6"/>
<path d="M1690.8 567.1V581.5M1687 567.1H1694.6M1687 581.5H1694.6" stroke="#a4a4a4" stroke-width="1" fill="none"/>
<rect x="1687.2" y="553.4" width="7.2" height="10.8" fill="#fff"/>
<text x="1690.8" y="563.9" class="let" text-anchor="middle">a</text>
<rect x="1732.1" y="600" width="16" height="144.7" fill="#000"/>
<path d="M1740.1 592.9V607.1M1736.3 592.9H1743.9M1736.3 607.1H1743.9" stroke="#8a8a8a" stroke-width="1" fill="none"/>
<rect x="1736.5" y="579.1" width="7.2" height="10.8" fill="#fff"/>
<text x="1740.1" y="589.6" class="let" text-anchor="middle">b</text>
<rect x="1752.3" y="658.8" width="14.9" height="85.9" fill="#fff" stroke="#8e8e8e" stroke-width="1.7"/>
<path d="M1759.75 651.4V664.6M1755.95 651.4H1763.55M1755.95 664.6H1763.55" stroke="#a4a4a4" stroke-width="1" fill="none"/>
<rect x="1756.15" y="637.1" width="7.2" height="10.8" fill="#fff"/>
<text x="1759.75" y="647.6" class="let" text-anchor="middle">c</text>
<rect x="1771.5" y="555.9" width="15.6" height="188.8" fill="url(#hatchf)" stroke="#000" stroke-width="1.6"/>
<path d="M1779.3 547.1V563.1M1775.5 547.1H1783.1M1775.5 563.1H1783.1" stroke="#a4a4a4" stroke-width="1" fill="none"/>
<rect x="1775.7" y="534.2" width="7.2" height="10.8" fill="#fff"/>
<text x="1779.3" y="544.7" class="let" text-anchor="middle">a</text>
<rect x="1820.6" y="600" width="16" height="144.7" fill="#000"/>
<path d="M1828.6 593.4V606.6M1824.8 593.4H1832.4M1824.8 606.6H1832.4" stroke="#8a8a8a" stroke-width="1" fill="none"/>
<rect x="1825" y="579.1" width="7.2" height="10.8" fill="#fff"/>
<text x="1828.6" y="589.6" class="let" text-anchor="middle">b</text>
<rect x="1840.8" y="640.8" width="14.9" height="103.9" fill="#fff" stroke="#8e8e8e" stroke-width="1.7"/>
<path d="M1848.25 633.4V646.6M1844.45 633.4H1852.05M1844.45 646.6H1852.05" stroke="#a4a4a4" stroke-width="1" fill="none"/>
<rect x="1844.65" y="619.1" width="7.2" height="10.8" fill="#fff"/>
<text x="1848.25" y="629.6" class="let" text-anchor="middle">c</text>
<rect x="1860" y="530.2" width="15.6" height="214.5" fill="url(#hatchf)" stroke="#000" stroke-width="1.6"/>
<path d="M1867.8 522.9V535.9M1864 522.9H1871.6M1864 535.9H1871.6" stroke="#a4a4a4" stroke-width="1" fill="none"/>
<rect x="1864.2" y="508.5" width="7.2" height="10.8" fill="#fff"/>
<text x="1867.8" y="519" class="let" text-anchor="middle">a</text>
<line x1="1356.2" y1="744.7" x2="1362.7" y2="744.7" class="ax"/>
<text x="1348.5" y="750.1" class="tick">0</text>
<line x1="1359.2" y1="735.82" x2="1362.7" y2="735.82" class="ax"/>
<line x1="1359.2" y1="726.93" x2="1362.7" y2="726.93" class="ax"/>
<line x1="1359.2" y1="718.05" x2="1362.7" y2="718.05" class="ax"/>
<line x1="1359.2" y1="709.16" x2="1362.7" y2="709.16" class="ax"/>
<line x1="1356.2" y1="700.28" x2="1362.7" y2="700.28" class="ax"/>
<text x="1348.5" y="705.68" class="tick">500</text>
<line x1="1359.2" y1="691.4" x2="1362.7" y2="691.4" class="ax"/>
<line x1="1359.2" y1="682.51" x2="1362.7" y2="682.51" class="ax"/>
<line x1="1359.2" y1="673.63" x2="1362.7" y2="673.63" class="ax"/>
<line x1="1359.2" y1="664.74" x2="1362.7" y2="664.74" class="ax"/>
<line x1="1356.2" y1="655.86" x2="1362.7" y2="655.86" class="ax"/>
<text x="1348.5" y="661.26" class="tick">1000</text>
<line x1="1359.2" y1="646.98" x2="1362.7" y2="646.98" class="ax"/>
<line x1="1359.2" y1="638.09" x2="1362.7" y2="638.09" class="ax"/>
<line x1="1359.2" y1="629.21" x2="1362.7" y2="629.21" class="ax"/>
<line x1="1359.2" y1="620.32" x2="1362.7" y2="620.32" class="ax"/>
<line x1="1356.2" y1="611.44" x2="1362.7" y2="611.44" class="ax"/>
<text x="1348.5" y="616.84" class="tick">1500</text>
<line x1="1359.2" y1="602.56" x2="1362.7" y2="602.56" class="ax"/>
<line x1="1359.2" y1="593.67" x2="1362.7" y2="593.67" class="ax"/>
<line x1="1359.2" y1="584.79" x2="1362.7" y2="584.79" class="ax"/>
<line x1="1359.2" y1="575.9" x2="1362.7" y2="575.9" class="ax"/>
<line x1="1356.2" y1="567.02" x2="1362.7" y2="567.02" class="ax"/>
<text x="1348.5" y="572.42" class="tick">2000</text>
<line x1="1359.2" y1="558.14" x2="1362.7" y2="558.14" class="ax"/>
<line x1="1359.2" y1="549.25" x2="1362.7" y2="549.25" class="ax"/>
<line x1="1359.2" y1="540.37" x2="1362.7" y2="540.37" class="ax"/>
<line x1="1359.2" y1="531.48" x2="1362.7" y2="531.48" class="ax"/>
<line x1="1356.2" y1="522.6" x2="1362.7" y2="522.6" class="ax"/>
<text x="1348.5" y="528" class="tick">2500</text>
<line x1="1362.7" y1="522.6" x2="1362.7" y2="801.7" class="ax"/>
<line x1="1362.7" y1="744.7" x2="1891.5" y2="744.7" class="ax"/>
<line x1="1450.83" y1="744.7" x2="1450.83" y2="773.5" class="ax"/>
<line x1="1538.97" y1="744.7" x2="1538.97" y2="801.7" class="ax"/>
<line x1="1627.1" y1="744.7" x2="1627.1" y2="773.5" class="ax"/>
<line x1="1715.23" y1="744.7" x2="1715.23" y2="801.7" class="ax"/>
<line x1="1803.37" y1="744.7" x2="1803.37" y2="773.5" class="ax"/>
<line x1="1891.5" y1="744.7" x2="1891.5" y2="801.7" class="ax"/>
<text x="1406.77" y="769.3" class="cat" text-anchor="middle">2012</text>
<text x="1494.9" y="769.3" class="cat" text-anchor="middle">2013</text>
<text x="1583.03" y="769.3" class="cat" text-anchor="middle">2012</text>
<text x="1671.17" y="769.3" class="cat" text-anchor="middle">2013</text>
<text x="1759.3" y="769.3" class="cat" text-anchor="middle">2012</text>
<text x="1847.43" y="769.3" class="cat" text-anchor="middle">2013</text>
<text x="1450.03" y="797.2" class="cat" text-anchor="middle">Y<tspan dx="1.6">aan</tspan></text>
<text x="1627.1" y="797.2" class="cat" text-anchor="middle">Renshou</text>
<text x="1802.57" y="797.2" class="cat" text-anchor="middle">L<tspan dx="1.6">ezhi</tspan></text>
<text transform="translate(1304.7,633.3) rotate(-90)" class="ytl" text-anchor="middle" textLength="155" lengthAdjust="spacing">Dry Matter (kg ha<tspan class="sup" dy="-6">-1</tspan><tspan dy="6">)</tspan></text>
</g>
</svg>
</body></html>
